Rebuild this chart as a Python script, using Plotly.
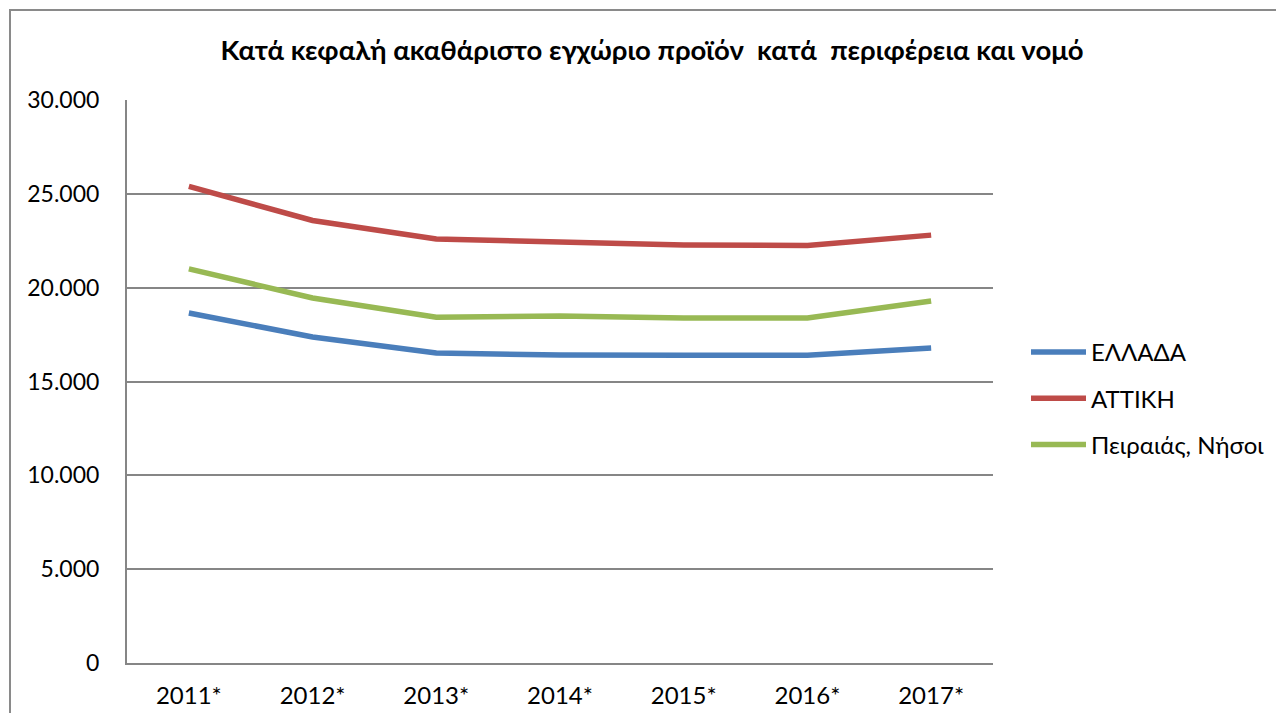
import plotly.graph_objects as go

years = ["2011*", "2012*", "2013*", "2014*", "2015*", "2016*", "2017*"]
ellada = [18650, 17370, 16520, 16410, 16400, 16400, 16780]
attiki = [25400, 23580, 22590, 22430, 22270, 22250, 22800]
peiraias = [21000, 19450, 18430, 18490, 18380, 18380, 19290]

series = [
    ("ΕΛΛΑΔΑ", ellada, "#4A7EBB"),
    ("ΑΤΤΙΚΗ", attiki, "#BE4B48"),
    ("Πειραιάς, Νήσοι", peiraias, "#98B954"),
]

OFF = 8  # page body margin
W, H = 1284 - 2 * OFF, 721 - 2 * OFF
# plot area in screen pixels
L, R, T, B = 127, 993, 100, 663
l, r, t, b = L - OFF, R - OFF, T - OFF, B - OFF

fig = go.Figure()
for i, (name, vals, col) in enumerate(series):
    fig.add_trace(go.Scatter(
        x=years, y=vals, name=name, mode="lines",
        line=dict(color=col, width=5.5), legendgroup=f"g{i}",
    ))

def px(x):
    return (x - L) / (R - L)

def py(y):
    return (B - y) / (B - T)

font = "Lato, 'Open Sans', Arial, sans-serif"
fig.update_layout(
    width=W, height=H,
    margin=dict(l=l, r=W - r, t=t, b=H - b, autoexpand=False),
    paper_bgcolor="white", plot_bgcolor="white",
    separators=",.",
    font=dict(family=font, size=24, color="#000000"),
    title=dict(
        text="<b>Κατά κεφαλή ακαθάριστο εγχώριο προϊόν  κατά  περιφέρεια και νομό</b>",
        x=px(652), xref="paper", xanchor="center",
        y=1 - (50 - OFF) / H, yref="container", yanchor="middle",
        font=dict(family=font, size=27.5, color="#000000"),
    ),
    xaxis=dict(
        type="category", range=[-0.5, 6.5], showgrid=False,
        showline=True, linecolor="#868686", linewidth=2,
        ticks="", ticklabelstandoff=10, tickfont=dict(size=24),
        fixedrange=True,
    ),
    yaxis=dict(
        range=[0, 30000], dtick=5000, tickformat=",d",
        showgrid=True, gridcolor="#868686", gridwidth=1.5,
        showline=True, linecolor="#868686", linewidth=2,
        ticks="", ticklabelstandoff=21, tickfont=dict(size=23),
        zeroline=False, fixedrange=True,
    ),
    legend=dict(
        x=px(1026), y=py(330), xanchor="left", yanchor="top",
        font=dict(size=24), itemwidth=55, tracegroupgap=12,
        traceorder="grouped", bgcolor="rgba(0,0,0,0)",
    ),
    showlegend=True,
    shapes=[dict(
        type="rect", xref="paper", yref="paper",
        x0=px(10), x1=px(1320), y0=py(760), y1=py(10),
        line=dict(color="#8A8A8A", width=2), fillcolor="rgba(0,0,0,0)",
        layer="below",
    )],
)

fig.write_html("out.html")
